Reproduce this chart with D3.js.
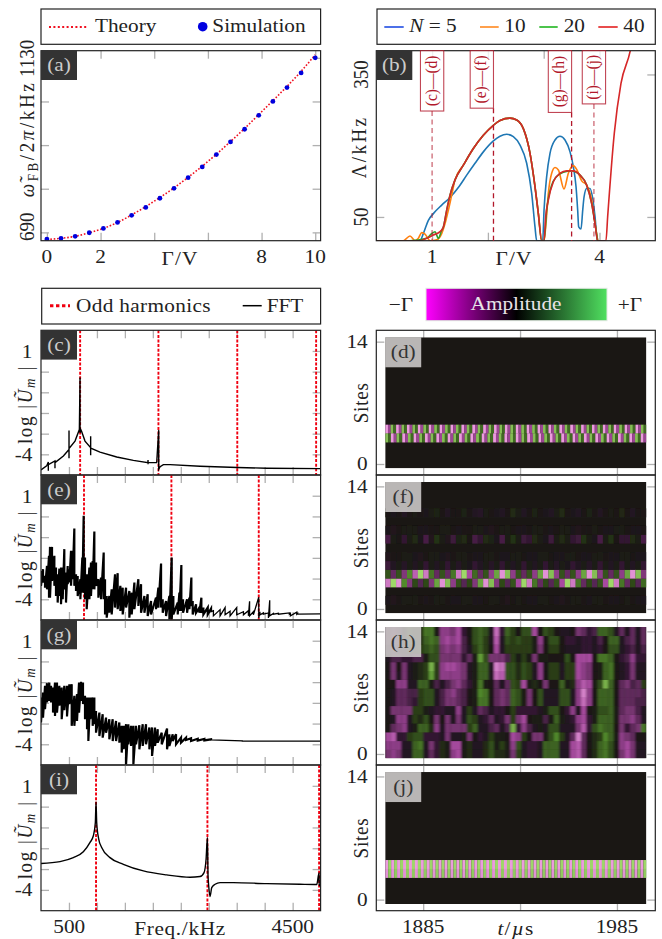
<!DOCTYPE html>
<html>
<head>
<meta charset="utf-8">
<script src="https://cdn.jsdelivr.net/npm/d3@7"></script>
<style>
html, body { margin: 0; padding: 0; background: #fff; }
svg { display: block; }
text { font-family: "Liberation Serif", serif; fill: #222; }
</style>
</head>
<body>
<svg id="chart" width="662" height="939"></svg>
<script>
// panel (a)
var gammaA = [0, 0.526, 1.053, 1.579, 2.105, 2.632, 3.158, 3.684, 4.211, 4.737, 5.263, 5.789, 6.316, 6.842, 7.368, 7.895, 8.421, 8.947, 9.474, 10];
var simA = [673, 675, 680, 689, 700, 715, 733, 753, 776, 801, 828, 855, 886, 918, 950, 985, 1020, 1055, 1092, 1130];
var theoryA = [672, 675, 680, 689, 700, 715, 734, 755, 778, 802, 829, 857, 887, 919, 952, 987, 1022, 1058, 1096, 1138];

// panel (b)
var gamma5 = [0, 0.5, 0.783, 0.843, 0.933, 1.022, 1.172, 1.321, 1.47, 1.62, 1.769, 1.918, 2.098, 2.217, 2.337, 2.456, 2.576, 2.695, 2.785, 2.844, 2.874, 2.982, 3.006, 3.053, 3.113, 3.203, 3.292, 3.382, 3.472, 3.531, 3.579, 3.609, 3.627, 3.669, 3.699, 3.723, 3.77, 3.83, 3.878, 3.92, 3.961, 4.1];
var lambda5 = [0, 0, 0, 15, 43, 57, 75, 91, 112, 138, 163, 187, 210, 220, 224, 219, 201, 163, 99.5, 29, 0, 0, 64, 135, 184, 212, 220, 212, 187, 156, 114, 64, 29, 24.5, 64, 92, 110, 110, 89, 50, 0, 0];
var gamma10 = [0, 0.485, 0.604, 0.694, 0.754, 0.813, 0.873, 0.963, 1.082, 1.172, 1.232, 1.291, 1.351, 1.411, 1.56, 1.739, 1.918, 2.098, 2.217, 2.396, 2.516, 2.635, 2.755, 2.844, 2.904, 2.964, 3.006, 3.041, 3.083, 3.143, 3.203, 3.263, 3.364, 3.442, 3.531, 3.591, 3.681, 3.77, 3.86, 3.92, 3.967];
var lambda10 = [0, 0, 10, 0, 5, 17, 14, 0, 2, 15, 36, 64, 96, 128, 159, 194, 222, 243, 253, 258, 254, 236, 184, 114, 57, 0, 0, 36, 99.5, 142, 154, 149, 109, 142, 158, 150, 126, 117, 85.5, 36, 0];
var gamma20 = [0, 0.6, 0.903, 0.992, 1.052, 1.112, 1.172, 1.202, 1.261, 1.321, 1.411, 1.56, 1.739, 1.918, 2.098, 2.217, 2.396, 2.516, 2.635, 2.755, 2.844, 2.904, 2.964, 3.006, 3.053, 3.143, 3.233, 3.352, 3.5, 3.651, 3.77, 3.86, 3.92, 3.967];
var lambda20 = [0, 0, 5, 15, 19, 5, 22, 29, 64, 96, 128, 159, 194, 222, 243, 253, 258, 254, 236, 184, 114, 57, 0, 0, 64, 117, 135, 144, 147, 138, 117, 78, 36, 0];
var gamma40 = [0, 0.6, 0.783, 0.903, 1.022, 1.142, 1.202, 1.261, 1.321, 1.411, 1.56, 1.739, 1.918, 2.098, 2.217, 2.396, 2.516, 2.635, 2.755, 2.844, 2.904, 2.964, 3.006, 3.035, 3.083, 3.173, 3.292, 3.412, 3.531, 3.651, 3.77, 3.86, 3.92, 3.967, 4.116, 4.146, 4.265, 4.385, 4.552, 4.6];
var lambda40 = [0, 0, 0, 5, 12, 19, 29, 64, 96, 128, 159, 194, 222, 243, 253, 258, 254, 236, 184, 114, 57, 0, 0, 50, 85.5, 124, 142, 147, 147, 138, 117, 78, 36, 0, 0, 50, 226, 331, 400, 430];
var markGamma = [1, 2.1, 3.5, 3.9];
var markLabel = ["(c)—(d)", "(e)—(f)", "(g)—(h)", "(i)—(j)"];
var markBox = [273, 279, 270, 288];
var markSide = [0, -1, -1, 0];
var markOpacity = [0.65, 1, 1, 0.65];

// spectra (c) (e) (g) (i), frequency in kHz, log amplitude
var freqC = [0, 101, 131, 131, 131, 250, 250, 250, 400, 501, 501, 501, 501, 608, 686, 698, 698, 710, 727, 787, 888, 888, 888, 888, 1055, 1354, 1652, 1914, 1914, 1914, 1914, 2069, 2105, 2105, 2130, 2188, 2308, 2844, 3512, 4037, 5000];
var logC = [-4.75, -4.56, -4.37, -4.8, -4.5, -4.32, -4.67, -4.4, -4.08, -3.76, -2.85, -4.19, -3.72, -3.36, -2.8, -0.28, -2.96, -2.8, -2.9, -3.36, -3.68, -3.12, -4.05, -3.7, -3.89, -4.13, -4.29, -4.4, -4.27, -4.48, -4.4, -4.4, -2.83, -4.72, -4.6, -4.5, -4.5, -4.58, -4.64, -4.67, -4.69];
var harmonicsC = [700, 2100, 3510, 4920];

var freqE = [0, 36, 72, 107, 143, 161, 197, 239, 268, 298, 328, 358, 388, 417, 447, 477, 507, 537, 566, 596, 626, 656, 704, 739, 763, 787, 817, 865, 894, 924, 954, 984, 1026, 1073, 1121, 1145, 1175, 1222, 1264, 1324, 1371, 1419, 1461, 1521, 1580, 1622, 1670, 1741, 1789, 1849, 1908, 1968, 2057, 2099, 2147, 2177, 2236, 2296, 2337, 2367, 2445, 2475, 2510, 2540, 2612, 2654, 2689, 2713, 2773, 2832, 2868, 2904, 2982, 3041, 3083, 3202, 3292, 3381, 3500, 3620, 3709, 3730, 3798, 3894, 3915, 3977, 4067, 4090, 4156, 4246, 4442, 4460, 4574, 4590, 5000];
var hiE = [-2.63, -2.55, -2.87, -2.39, -1.9, -1.47, -1.47, -1.9, -2.47, -2.79, -2.52, -2.47, -2.47, -1.58, -2.71, -2.39, -2.55, -1.66, -1.66, -0.58, -2.79, -2.87, -3.03, -1.98, 0.03, -1.98, -2.79, -2.47, -2.23, -2.15, -0.73, -2.23, -3.03, -2.95, -1.74, -3.03, -3.84, -3.84, -3.52, -2.79, -2.74, -3.35, -3.44, -3.44, -3.6, -3.68, -3.19, -3.03, -3.27, -3.84, -3.76, -4.08, -3.92, -3.44, -2.27, -4, -4.08, -3.84, -1.98, -3.84, -4.16, -3.68, -2.35, -4, -4, -3.92, -2.95, -4.08, -4.24, -4.4, -3.92, -4.4, -4.4, -4.45, -4.55, -4.5, -4.4, -4.58, -4.4, -4.6, -4.55, -4.1, -4.6, -3.9, -4.6, -4.66, -4.66, -4.05, -4.68, -4.68, -4.66, -4.68, -4.62, -4.68, -4.7];
var loE = [-3.35, -3.19, -3.44, -3.52, -3.92, -3.92, -3.11, -3.35, -3.84, -4.16, -3.84, -4.24, -4, -3.52, -4.16, -3.27, -3.19, -3.35, -3.03, -3.35, -3.6, -3.84, -4, -3.68, -3.68, -4, -4.48, -4, -3.84, -3.52, -3.52, -3.35, -3.92, -4, -4, -4.73, -4.89, -4.65, -4.73, -4.4, -4.48, -4.56, -4.73, -4.4, -4.89, -4.73, -4.48, -4.32, -4.65, -4.65, -4.81, -4.73, -4.48, -4.4, -4.4, -4.65, -4.81, -4.97, -4.97, -4.73, -4.73, -4.56, -4.56, -4.65, -4.65, -4.48, -4.32, -4.73, -4.65, -4.65, -4.65, -4.73, -4.73, -4.6, -4.8, -4.8, -4.75, -4.8, -4.75, -4.75, -4.8, -4.8, -4.75, -4.9, -4.75, -4.72, -4.9, -4.8, -4.72, -4.72, -4.72, -4.8, -4.72, -4.72, -4.72];
var harmonicsE = [769, 2332, 3894];

var freqG = [0, 36, 72, 107, 149, 179, 215, 250, 286, 328, 370, 417, 465, 507, 549, 596, 644, 680, 716, 751, 787, 823, 847, 882, 924, 954, 984, 1044, 1103, 1163, 1222, 1282, 1342, 1401, 1443, 1479, 1521, 1562, 1610, 1652, 1699, 1759, 1819, 1878, 1938, 1986, 2039, 2087, 2159, 2254, 2296, 2355, 2415, 2504, 2594, 2683, 2803, 2922, 3041, 3600, 5000];
var hiG = [-1.74, -1.5, -1.18, -1.05, -1.02, -1.18, -1.26, -1.02, -1.02, -1.18, -1.26, -1.18, -1.18, -1.1, -1.1, -1.66, -1.58, -1.02, -0.98, -1.02, -1.66, -1.74, -1.74, -1.74, -1.74, -1.74, -2.39, -2.47, -2.55, -2.71, -2.79, -2.79, -2.87, -2.95, -3.11, -3.11, -3.03, -3.03, -3.11, -3.11, -3.11, -3.08, -3.03, -3.03, -3.19, -3.19, -3.19, -3.27, -3.44, -3.24, -3.52, -3.52, -3.52, -3.68, -3.68, -3.71, -3.73, -3.74, -3.76, -3.83, -3.85];
var loG = [-2.95, -2.71, -2.31, -1.98, -1.9, -1.98, -2.47, -2.63, -2.47, -2.13, -2.79, -2.35, -2.66, -2.06, -3.11, -3.11, -2.87, -2.47, -1.9, -2.06, -2.79, -3.27, -3.84, -2.79, -3.11, -3.03, -3.44, -3.6, -3.68, -3.44, -3.76, -3.84, -3.84, -3.92, -4.4, -4.24, -4.97, -4, -4.08, -4.97, -4, -4.24, -4.08, -4, -4.24, -4.56, -4.08, -3.92, -4, -4.24, -4.08, -3.84, -4, -3.92, -3.79, -3.84, -3.82, -3.81, -3.79, -3.85, -3.87];

var freqI = [0, 340, 578, 757, 877, 936, 972, 984, 996, 1032, 1085, 1234, 1473, 1831, 2248, 2665, 2844, 2916, 2952, 2976, 2987, 2999, 3023, 3053, 3113, 3202, 3441, 4037, 4633, 4931, 4973, 4974, 5000];
var logI = [-2.73, -2.64, -2.45, -2.17, -1.72, -1.4, -0.76, 0.23, -0.76, -1.56, -1.96, -2.45, -2.77, -3.09, -3.28, -3.39, -3.36, -3.17, -2.53, -1.48, -3.33, -3.81, -4.32, -3.89, -3.73, -3.65, -3.65, -3.7, -3.73, -3.74, -3.17, -3.8, -3.74];
var harmonicsI = [984, 2976, 4973];

// heat maps, one row per site, columns in time order
var dSite4 = [-0.95, -0.55, 0.8, 0.45, -0.95, -0.55, 0.8, 0.45, -0.95, -0.55, 0.8, 0.45, -0.95, -0.55, 0.8, 0.45, -0.95, -0.55, 0.8, 0.45, -0.95, -0.55, 0.8, 0.45, -0.95, -0.55, 0.8, 0.45, -0.95, -0.55, 0.8, 0.45, -0.95, -0.55, 0.8, 0.45, -0.95, -0.55, 0.8, 0.45, -0.95, -0.55, 0.8, 0.45, -0.95, -0.55, 0.8, 0.45, -0.95, -0.55, 0.8, 0.45, -0.95, -0.55, 0.8, 0.45, -0.95, -0.55, 0.8, 0.45, -0.95, -0.55, 0.8, 0.45, -0.95, -0.55, 0.8, 0.45, -0.95, -0.55, 0.8, 0.45, -0.95, -0.55, 0.8, 0.45, -0.95, -0.55, 0.8, 0.45, -0.95, -0.55, 0.8, 0.45, -0.95, -0.55, 0.8, 0.45, -0.95, -0.55, 0.8, 0.45, -0.95, -0.55, 0.8, 0.45];
var dSite3 = [0.8, 0.45, -0.95, -0.55, 0.8, 0.45, -0.95, -0.55, 0.8, 0.45, -0.95, -0.55, 0.8, 0.45, -0.95, -0.55, 0.8, 0.45, -0.95, -0.55, 0.8, 0.45, -0.95, -0.55, 0.8, 0.45, -0.95, -0.55, 0.8, 0.45, -0.95, -0.55, 0.8, 0.45, -0.95, -0.55, 0.8, 0.45, -0.95, -0.55, 0.8, 0.45, -0.95, -0.55, 0.8, 0.45, -0.95, -0.55, 0.8, 0.45, -0.95, -0.55, 0.8, 0.45, -0.95, -0.55, 0.8, 0.45, -0.95, -0.55, 0.8, 0.45, -0.95, -0.55, 0.8, 0.45, -0.95, -0.55, 0.8, 0.45, -0.95, -0.55, 0.8, 0.45, -0.95, -0.55, 0.8, 0.45, -0.95, -0.55, 0.8, 0.45, -0.95, -0.55, 0.8, 0.45, -0.95, -0.55, 0.8, 0.45, -0.95, -0.55];

var fSite4 = [0.35, -0.35, 0.35, -0.45, 0.6, -0.7, 0.9, -0.8, 0.5, -0.35, 0.35, -0.35, 0.5, -0.8, 0.9, -0.6, 0.45, -0.35, 0.35, -0.5, 0.7, -0.9, 0.8, -0.5, 0.35, -0.35, 0.35, -0.5, 0.7, -0.9, 0.8, -0.5, 0.35, -0.35, 0.35, -0.5, 0.7, -0.9, 0.8, -0.5, 0.35, -0.35, 0.35, -0.5, 0.7, -0.9, 0.8, -0.45];
var fSite3 = [-0.8, 0.9, -0.9, 0.6, -0.45, 0.3, -0.3, 0.3, -0.45, 0.7, -0.9, 0.8, -0.5, 0.35, -0.3, 0.3, -0.45, 0.7, -0.9, 0.8, -0.45, 0.3, -0.3, 0.35, -0.6, 0.9, -0.8, 0.5, -0.35, 0.3, -0.3, 0.35, -0.6, 0.9, -0.8, 0.5, -0.35, 0.3, -0.3, 0.35, -0.6, 0.9, -0.8, 0.5, -0.35, 0.3, -0.3, 0.45];
var fSite5 = [-0.2, -0.1, 0.05, -0.12, 0.08, -0.1, 0.08, -0.16, 0.08, -0.1, 0.05, -0.16, 0.05, -0.12, 0.08, -0.05, -0.16, -0.1, 0.08, -0.12, 0.05, -0.16, 0.08, -0.1, 0.05, -0.16, 0.05, -0.1, 0.08, -0.16, 0.05, -0.12, 0.08, -0.05, -0.16, -0.1, 0.08, -0.12, 0.05, -0.16, 0.08, -0.1, 0.05, -0.16, 0.05, -0.1, 0.08, -0.16];
var fSite8 = [-0.24, 0.04, 0, -0.16, 0.08, 0.16, -0.04, -0.24, -0.08, 0.2, 0.04, -0.08, -0.2, 0.12, 0.16, 0, -0.24, -0.16, 0.16, 0.12, -0.04, -0.24, 0.04, 0.2, 0.08, -0.2, -0.16, 0.16, 0.08, -0.04, -0.2, 0.04, 0.16, 0.08, -0.16, -0.2, 0.2, 0.04, -0.04, -0.24, 0.08, 0.2, 0, -0.16, -0.16, 0.16, 0.04, -0.24];
var fSite11 = [0, -0.05, 0.02, -0.1, 0, 0.03, -0.03, -0.05, 0.05, 0.12, 0, -0.1, 0, 0.02, 0.1, -0.03, -0.1, -0.12, 0.05, 0.02, -0.05, -0.1, 0, 0.15, 0.05, -0.1, -0.03, 0.12, 0, -0.05, -0.1, 0.05, 0.15, 0, -0.05, -0.1, 0, 0.12, 0.02, -0.1, -0.03, 0.05, 0, 0.14, -0.02, -0.1, 0, 0.02];
var fSite9 = [-0.05, -0.08, -0.02, 0.03, 0.06, 0.03, -0.04, -0.06, -0.03, 0.02, 0.05, 0.06, 0.02, -0.04, -0.03, 0.02, 0.05, 0.03, -0.05, -0.07, -0.02, 0.03, 0.06, 0.02, -0.05, -0.06, 0.02, 0.06, 0.04, -0.03, -0.05, 0.02, 0.05, 0.03, -0.04, -0.07, -0.03, 0.02, 0.05, 0.02, -0.05, -0.04, 0.03, 0.06, 0.02, -0.04, -0.05, 0.02];
var fSite6 = [-0.07, -0.03, 0.02, 0.07, 0.03, -0.05, -0.07, 0.02, 0.06, 0.05, -0.04, -0.07, -0.02, 0.05, 0.06, 0, -0.06, -0.05, 0.03, 0.07, 0.02, -0.06, -0.05, 0.03, 0.07, 0.01, -0.06, -0.05, 0.04, 0.06, 0, -0.05, -0.06, 0.03, 0.07, 0.02, -0.06, -0.04, 0.03, 0.06, 0.01, -0.06, -0.04, 0.04, 0.06, 0, -0.05, -0.05];
var fSite1 = [-0.04, -0.08, -0.03, 0.05, 0.03, 0.08, 0.02, -0.05, -0.03, 0.07, 0.04, -0.02, -0.05, -0.04, 0.05, 0.03, -0.06, -0.04, 0.02, 0.06, 0.03, -0.03, -0.07, 0.02, 0.06, 0.02, -0.05, -0.06, 0.03, 0.05, 0.02, -0.04, -0.07, -0.02, 0.05, 0.04, -0.03, -0.06, 0.03, 0.06, 0.01, -0.05, -0.05, 0.02, 0.06, 0.02, -0.04, -0.05];

var hRows = [
  [-5, -6, -5, -1, -1, 5, 5, -1, -4, -2, 2, 1, -6, -7, 1, 2, -1, -1, 2, 4, 2, 2, 1, -5, 3, -1, -2, -2, -1, 5, 5, 5, -1, -1, -7, -8, -4, 0, 2, 5, 6, 4, 0, -5, -7, -5, -1, -1],
  [-6, -6, -6, -1, -1, 5, 6, -1, -5, -2, 2, 1, -7, -7, 1, 2, -1, -1, 2, 4, 1, 3, 1, -6, 4, -1, -2, -2, -1, 5, 5, 5, -1, -1, -7, -8, -4, 0, 2, 5, 6, 4, 0, -6, -7, -5, -1, -1],
  [-7, -8, -2, -2, 3, 4, 4, -2, -2, -2, -1, -5, -1, -1, 1, -5, 0, -2, -1, 3, 1, 1, 0, -7, -6, 3, 0, -5, -5, 1, 4, 7, 3, -1, -4, -10, -4, 0, 2, 3, 7, 5, 1, -6, -5, -4, 0, 0],
  [0, -4, -5, -6, -1, 1, 5, 5, 2, -6, -1, -5, -5, -5, -5, 3, 5, -1, -1, -3, -4, -1, -3, 9, -2, -6, -3, -1, 1, -1, 4, 4, -1, -1, -1, -5, -8, -2, 4, 6, 5, 5, 0, -5, -2, -4, -5, 6],
  [0, -1, -6, -6, -1, 3, 2, 4, 0, -5, 0, -5, -1, -5, -1, 4, 3, -1, -2, -4, -1, -2, -5, 3, -5, -7, 0, 1, 1, -3, 1, 5, 1, -1, -2, -6, -7, -2, 1, 5, 5, 5, 1, -5, -5, -6, -4, -1],
  [0, -5, -5, -5, -5, 3, 3, 1, -1, -2, -2, -1, -1, -6, -1, 3, -1, -4, -3, -1, -2, -2, 0, 3, -2, -2, -2, -2, -1, 1, 4, 4, 0, -2, -6, -1, -7, 0, 1, 4, 4, 5, 1, -4, -5, -5, -3, -1],
  [0, -1, -4, -4, -3, -2, 3, 4, 4, -1, -3, -5, -5, -4, -3, 0, 1, 6, 6, 0, -4, -5, -4, 5, 4, 1, -5, 0, 4, -1, -1, -1, 4, 4, -1, -6, -9, -6, 0, 5, 5, 5, 0, -4, -4, -4, -3, -3],
  [0, -1, -4, -4, -3, -3, 3, 4, 4, -1, -3, -5, -6, -4, -3, 0, 1, 7, 6, 0, -4, -5, -4, 5, 4, 1, -5, 0, 4, -1, -1, -1, 4, 4, -1, -6, -10, -6, 0, 5, 5, 5, 0, -4, -4, -4, -4, -3],
  [0, 0, -6, -6, -1, -1, 5, 5, 1, -3, -1, -3, -5, -6, -4, -2, 1, 6, 1, 0, -4, -1, -4, 4, 3, -7, 1, 2, 0, -5, 0, 0, 5, 1, 2, -6, -8, -7, 1, 4, 9, 5, 0, -4, -5, -3, -4, 3],
  [0, -5, -1, -5, -1, 1, 2, 3, 8, 3, -6, -6, -6, -6, -5, -1, 1, 5, 5, -1, -9, -8, 4, 4, 2, 4, 3, -1, -6, 0, 3, 3, -1, 3, 3, -7, -6, -5, 0, 1, 5, 6, 0, -1, -2, -5, -1, -1],
  [0, -5, 0, -5, -1, 1, 2, 3, 9, 3, -6, -7, -7, -6, -5, -1, 1, 5, 5, -1, -10, -9, 4, 4, 2, 4, 3, -1, -6, 0, 3, 3, -1, 3, 3, -7, -6, -5, 0, 1, 5, 6, 0, -1, -2, -5, -1, -1],
  [-1, -3, -3, -2, -2, -3, -3, 1, 4, 4, -5, -5, -5, -5, -2, -4, 1, 8, 4, -5, -5, -5, -3, 3, 1, 3, 1, -5, 1, 1, 0, 0, 0, 4, 0, -7, -7, -7, 0, 6, 6, 5, 0, -2, -3, -6, -2, -2],
  [-2, -3, -2, -1, 2, 2, 3, 4, 5, 4, -5, -6, -5, -6, -3, -1, 3, 5, 3, 0, -7, -1, 3, 3, 3, 3, 3, 1, -5, 0, 3, 3, 0, -1, -1, -1, -2, -2, -1, -2, 0, 4, 4, -1, -2, -3, -1, -3],
  [-3, -4, -3, 0, 3, 2, 2, 5, 6, 5, -6, -7, -6, -7, -3, 0, 4, 5, 3, -1, -8, -1, 4, 3, 4, 3, 3, 1, -6, 0, 4, 4, 0, -2, -2, -1, -2, -2, -1, -3, 0, 5, 5, -1, -3, -4, -1, -4],
  [-3, -4, -3, 0, 3, 2, 2, 6, 6, 1, -6, -6, -5, -7, -2, 0, 4, 5, 4, -1, -9, -2, 5, 3, 0, 4, 4, -7, 0, 4, 3, 0, -1, -1, 0, -5, -4, -2, -3, 5, 5, 4, -1, -4, -1, -4, -1, -4]
];

var jSite4 = [-0.95, 0.9, -0.95, 0.9, -0.95, 0.9, -0.95, 0.9, -0.95, 0.9, -0.95, 0.9, -0.95, 0.9, -0.95, 0.9, -0.95, 0.9, -0.95, 0.9, -0.95, 0.9, -0.95, 0.9, -0.95, 0.9, -0.95, 0.9, -0.95, 0.9, -0.95, 0.9, -0.95, 0.9, -0.95, 0.9, -0.95, 0.9, -0.95, 0.9, -0.95, 0.9, -0.95, 0.9, -0.95, 0.9, -0.95, 0.9, -0.95, 0.9, -0.95, 0.9, -0.95, 0.9, -0.95, 0.9, -0.95, 0.9, -0.95, 0.9, -0.95, 0.9, -0.95, 0.9, -0.95, 0.9, -0.95, 0.9, -0.95, 0.9, -0.95, 0.9, -0.95, 0.9, -0.95, 0.9, -0.95, 0.9, -0.95, 0.9, -0.95, 0.9, -0.95, 0.9, -0.95, 0.9, -0.95, 0.9];
var jSite3 = [-0.9, 0.85, -0.9, 0.85, -0.9, 0.85, -0.9, 0.85, -0.9, 0.85, -0.9, 0.85, -0.9, 0.85, -0.9, 0.85, -0.9, 0.85, -0.9, 0.85, -0.9, 0.85, -0.9, 0.85, -0.9, 0.85, -0.9, 0.85, -0.9, 0.85, -0.9, 0.85, -0.9, 0.85, -0.9, 0.85, -0.9, 0.85, -0.9, 0.85, -0.9, 0.85, -0.9, 0.85, -0.9, 0.85, -0.9, 0.85, -0.9, 0.85, -0.9, 0.85, -0.9, 0.85, -0.9, 0.85, -0.9, 0.85, -0.9, 0.85, -0.9, 0.85, -0.9, 0.85, -0.9, 0.85, -0.9, 0.85, -0.9, 0.85, -0.9, 0.85, -0.9, 0.85, -0.9, 0.85, -0.9, 0.85, -0.9, 0.85, -0.9, 0.85, -0.9, 0.85, -0.9, 0.85, -0.9, 0.85];

var svg = d3.select("#chart");
var defs = svg.append("defs");
var tickColor = "#b0b0b0";
var frameColor = "#222";
var sx = 1.12;  // the original figure is stretched sideways, text too

var heatColor = d3.scaleLinear()
    .domain([-1, -0.6, -0.2, -0.1, 0, 0.1, 0.2, 0.6, 1])
    .range(["#f4a8e6", "#a84aa0", "#3c1a3a", "#221822", "#1a1714", "#1d2115", "#243212", "#518a2c", "#b8f07c"]);

function label(x, y, html, opts) {
    opts = opts || {};
    var t = "translate(" + x + "," + y + ") scale(" + sx + ",1)";
    if (opts.rotate) {
        t += " rotate(-90)";
    }
    return svg.append("text")
        .attr("transform", t)
        .attr("font-size", opts.size || 19)
        .attr("letter-spacing", opts.spacing || null)
        .attr("text-anchor", opts.anchor || "middle")
        .style("fill", opts.fill || null)
        .html(html);
}

function frame(box) {
    svg.append("rect")
        .attr("x", box.x0).attr("y", box.y0)
        .attr("width", box.x1 - box.x0).attr("height", box.y1 - box.y0)
        .attr("fill", "none")
        .attr("stroke", frameColor)
        .attr("stroke-width", 1.2);
}

function ticks(box, x, y, xTicks, yTicks, len) {
    var sides = [
        [d3.axisBottom(x).tickValues(xTicks), 0, box.y1],
        [d3.axisTop(x).tickValues(xTicks), 0, box.y0],
        [d3.axisLeft(y).tickValues(yTicks), box.x0, 0],
        [d3.axisRight(y).tickValues(yTicks), box.x1, 0]
    ];
    sides.forEach(function(s) {
        var g = svg.append("g")
            .attr("transform", "translate(" + s[1] + "," + s[2] + ")")
            .call(s[0].tickSize(-len).tickFormat(""));
        g.select(".domain").remove();
        g.selectAll("line").attr("stroke", tickColor).attr("stroke-width", 1.3);
    });
}

function tag(x0, y0, w, h, text, dark) {
    svg.append("rect")
        .attr("x", x0).attr("y", y0).attr("width", w).attr("height", h)
        .attr("fill", dark ? "#333" : "#cfcdcc")
        .attr("opacity", dark ? 1 : 0.88);
    label(x0 + w / 2, y0 + h / 2 + 6, text, {fill: dark ? "#ccc" : "#333"});
}

function legendBox(x0, y0, x1, y1) {
    svg.append("rect")
        .attr("x", x0).attr("y", y0)
        .attr("width", x1 - x0).attr("height", y1 - y0)
        .attr("fill", "#fff").attr("stroke", frameColor).attr("stroke-width", 1.2);
}

function legendLine(x0, x1, y, color, width, dash) {
    svg.append("line")
        .attr("x1", x0).attr("x2", x1).attr("y1", y).attr("y2", y)
        .attr("stroke", color)
        .attr("stroke-width", width)
        .attr("stroke-dasharray", dash || null);
}

var clipCount = 0;
function clipTo(box) {
    var id = "clip" + (clipCount++);
    svg.append("clipPath").attr("id", id).append("rect")
        .attr("x", box.x0).attr("y", box.y0)
        .attr("width", box.x1 - box.x0).attr("height", box.y1 - box.y0);
    return svg.append("g").attr("clip-path", "url(#" + id + ")");
}

// ---- panel (a)
var boxA = {x0: 41, x1: 320.6, y0: 50.7, y1: 240.7};
var xA = d3.scaleLinear().domain([-0.22, 10.2]).range([boxA.x0, boxA.x1]);
var yA = d3.scaleLinear().domain([669, 1148]).range([boxA.y1, boxA.y0]);
ticks(boxA, xA, yA, [0, 2, 4, 6, 8, 10], [690, 800, 910, 1020, 1130], 8);
var plotA = clipTo(boxA);
plotA.append("path")
    .datum(d3.zip(gammaA, theoryA))
    .attr("d", d3.line().x(d => xA(d[0])).y(d => yA(d[1])).curve(d3.curveMonotoneX))
    .attr("fill", "none").attr("stroke", "#f01020").attr("stroke-width", 1.6).attr("stroke-dasharray", "1.6,1.8");
plotA.selectAll("circle").data(d3.zip(gammaA, simA)).enter().append("circle")
    .attr("cx", d => xA(d[0])).attr("cy", d => yA(d[1])).attr("r", 2.4)
    .attr("fill", "#0000dd");
frame(boxA);
tag(41, 50.7, 36, 29.3, "(a)", true);

legendBox(41, 9, 320.6, 44.3);
legendLine(49, 88, 27, "#f01020", 2.2, "2,2.4");
label(95, 32, "Theory", {anchor: "start"});
svg.append("circle").attr("cx", 202.7).attr("cy", 26.7).attr("r", 4.8).attr("fill", "#0000e0");
label(212.3, 32, "Simulation", {anchor: "start"});
[0, 2, 8, 10].forEach(function(v) { label(xA(v), 263, v); });
label(180, 265, "Γ/V", {spacing: 1});
label(34.3, 226.7, "690", {rotate: true});
label(34.3, 58.3, "1130", {rotate: true});
label(34.3, 139, '<tspan font-style="italic">ω̃</tspan><tspan dy="3" font-size="13">FB</tspan><tspan dy="-3">/2</tspan><tspan font-style="italic">π</tspan>/kHz', {rotate: true, spacing: 2.6});

// ---- panel (b)
var boxB = {x0: 376.3, x1: 655.3, y0: 50.7, y1: 240.7};
var xB = d3.scaleLinear().domain([0, 5]).range([boxB.x0, boxB.x1]);
var yB = d3.scaleLinear().domain([0, 400]).range([boxB.y1, boxB.y0]);
ticks(boxB, xB, yB, [1, 2, 3, 4], [50, 350], 8);
var plotB = clipTo(boxB);
var curveB = d3.line().x(d => xB(d[0])).y(d => yB(d[1])).curve(d3.curveMonotoneX);
[[gamma5, lambda5, "#1f77b4"], [gamma10, lambda10, "#ff7f0e"], [gamma20, lambda20, "#2ca02c"], [gamma40, lambda40, "#d62728"]].forEach(function(s) {
    plotB.append("path")
        .datum(d3.zip(s[0], s[1]))
        .attr("d", curveB)
        .attr("fill", "none").attr("stroke", s[2]).attr("stroke-width", 1.6);
});
frame(boxB);
markGamma.forEach(function(g, i) {
    var boxW = 23.3;
    var left = markSide[i] === 0 ? xB(g) - boxW / 2 : xB(g) - boxW;
    svg.append("line")
        .attr("x1", xB(g)).attr("x2", xB(g))
        .attr("y1", yB(markBox[i])).attr("y2", boxB.y1)
        .attr("stroke", "#b2182b").attr("stroke-width", 1.3)
        .attr("stroke-dasharray", "5,3.5").attr("opacity", markOpacity[i]);
    svg.append("rect")
        .attr("x", left).attr("y", boxB.y0)
        .attr("width", boxW).attr("height", yB(markBox[i]) - boxB.y0)
        .attr("fill", "#fff").attr("stroke", "#b2182b").attr("stroke-width", 1.1)
        .attr("opacity", 0.8);
    label(left + boxW / 2 + 4.5, (boxB.y0 + yB(markBox[i])) / 2, markLabel[i], {rotate: true, size: 15.5, fill: "#b2182b"});
});
tag(376.3, 50.7, 36, 29.3, "(b)", true);

legendBox(377, 9, 655.3, 44.3);
legendLine(384.3, 403.7, 27, "#1040e0", 1.5);
label(409.3, 32, '<tspan font-style="italic">N</tspan> = 5', {anchor: "start"});
legendLine(480, 498.7, 27, "#ff8010", 1.5);
label(504.3, 32, "10", {anchor: "start"});
legendLine(539.3, 557.7, 27, "#10b010", 1.5);
label(563.7, 32, "20", {anchor: "start"});
legendLine(598.3, 617.7, 27, "#e01010", 1.5);
label(623.3, 32, "40", {anchor: "start"});
label(xB(1), 263, "1");
label(xB(4), 263, "4");
label(514, 265, "Γ/V", {spacing: 1});
label(367.7, yB(350), "350", {rotate: true});
label(367.7, yB(50), "50", {rotate: true});
label(366, 147, "Λ/kHz", {rotate: true, spacing: 2.4});

// ---- spectra, left column
var rowTops = [330.3, 475, 620, 765];
var rowBottoms = [475, 620, 765, 910.7];
var xF = d3.scaleLinear().domain([0, 5000]).range([41, 320.6]);

function spectrum(row, name, harmonics, drawCurve) {
    var box = {x0: 41, x1: 320.6, y0: rowTops[row], y1: rowBottoms[row]};
    var y = d3.scaleLinear().domain([-5, 2]).range([box.y1, box.y0]);
    ticks(box, xF, y, d3.range(500, 5000, 500), [1, 0, -1, -2, -3, -4], 8);
    var plot = clipTo(box);
    plot.selectAll("line.harm").data(harmonics).enter().append("line")
        .attr("class", "harm")
        .attr("x1", d => xF(d)).attr("x2", d => xF(d))
        .attr("y1", box.y0).attr("y2", box.y1)
        .attr("stroke", "#f00010").attr("stroke-width", 1.9).attr("stroke-dasharray", "3,1.6");
    drawCurve(plot, y);
    frame(box);
    tag(41, box.y0, 36, 29.3, name, true);
    label(32.5, y(1) + 7, "1", {anchor: "end"});
    label(32.5, y(-4) + 6.5, "-4", {anchor: "end"});
    label(31.5, y(-1.5) + 2, 'log |<tspan font-style="italic">Ũ</tspan><tspan dy="3" font-size="13" font-style="italic">m</tspan><tspan dy="-3"> |</tspan>', {rotate: true, spacing: 1.6});
}

function lineCurve(freq, logs, curve) {
    return function(plot, y) {
        plot.append("path")
            .datum(d3.zip(freq, logs))
            .attr("d", d3.line().x(d => xF(d[0])).y(d => y(d[1])).curve(curve || d3.curveLinear))
            .attr("fill", "none").attr("stroke", "#000").attr("stroke-width", 1.4);
    };
}

// noisy spectra: walk up and down between the top and bottom read at each frequency,
// heavy where the noise is dense, thin in the quiet tail
function bandCurve(freq, hi, lo) {
    return function(plot, y) {
        var walk = d3.zip(freq, hi, lo).flatMap(d => [[d[0], d[1]], [d[0], d[2]]]);
        var line = d3.line().x(d => xF(d[0])).y(d => y(d[1]));
        plot.append("path")
            .datum(walk.filter(d => d[0] <= 3050))
            .attr("d", line)
            .attr("fill", "none").attr("stroke", "#000").attr("stroke-width", 2.2);
        plot.append("path")
            .datum(walk.filter(d => d[0] >= 3040))
            .attr("d", line)
            .attr("fill", "none").attr("stroke", "#000").attr("stroke-width", 1.3);
    };
}

spectrum(0, "(c)", harmonicsC, lineCurve(freqC, logC));
spectrum(1, "(e)", harmonicsE, bandCurve(freqE, hiE, loE));
spectrum(2, "(g)", [], bandCurve(freqG, hiG, loG));
spectrum(3, "(i)", harmonicsI, lineCurve(freqI, logI, d3.curveMonotoneX));

legendBox(41.7, 288.3, 320.6, 324);
legendLine(50, 70, 305.7, "#f00010", 3, "3.4,2.6");
label(76, 311.7, "Odd harmonics", {anchor: "start", spacing: 0.3});
legendLine(242.7, 261.7, 305.7, "#000", 1.5);
label(266.7, 311.7, "FFT", {anchor: "start"});
label(69.3, 933, "500");
label(292.7, 933, "4500");
label(180, 935, "Freq./kHz", {spacing: 0.6});

// ---- heat maps, right column
var xT = d3.scaleLinear().domain([1860.8, 2004.8]).range([376.3, 655.3]);

function heat(row, name, rows, blur) {
    var box = {x0: 376.3, x1: 655.3, y0: rowTops[row], y1: rowBottoms[row]};
    var y = d3.scaleLinear().domain([-1.26, 15.3]).range([box.y1, box.y0]);
    ticks(box, xT, y, [1885, 1935, 1985], [0, 14], 8);
    var left = xT(1865.4);
    var right = xT(2000.2);
    var rowH = y(0) - y(1);
    var clipped = clipTo({x0: left, x1: right, y0: y(14.5), y1: y(-0.5)});
    clipped.append("rect")
        .attr("x", left).attr("y", y(14.5))
        .attr("width", right - left).attr("height", y(-0.5) - y(14.5))
        .attr("fill", "#1a1714");
    var id = "soft" + row;
    defs.append("filter").attr("id", id)
        .attr("x", "-2%").attr("y", "-2%").attr("width", "104%").attr("height", "104%")
        .append("feGaussianBlur").attr("stdDeviation", blur);
    var strip = clipped.append("g").attr("filter", "url(#" + id + ")");
    rows.forEach(function(r) {
        var cols = d3.scaleBand().domain(d3.range(r.values.length)).range([left, right]);
        strip.selectAll("rect.s" + r.site).data(r.values).enter().append("rect")
            .attr("class", "s" + r.site)
            .attr("x", (d, i) => cols(i))
            .attr("y", y(r.site + 0.5))
            .attr("width", cols.bandwidth() + 0.1)
            .attr("height", rowH + 0.3)
            .attr("fill", d => heatColor(d));
    });
    frame(box);
    tag(left, y(14.5), 36, 30, name, false);
    label(367.7, y(14) + 6.5, "14", {anchor: "end"});
    label(367.7, y(0) + 6.5, "0", {anchor: "end"});
    label(368, y(7), "Sites", {rotate: true, spacing: 0.8});
}

heat(0, "(d)", [{site: 4, values: dSite4}, {site: 3, values: dSite3}], "0.35 0.1");
heat(1, "(f)", [
    {site: 1, values: fSite1}, {site: 3, values: fSite3}, {site: 4, values: fSite4},
    {site: 5, values: fSite5}, {site: 6, values: fSite6}, {site: 8, values: fSite8},
    {site: 9, values: fSite9}, {site: 11, values: fSite11}
], "0.35 0.12");
heat(2, "(h)", hRows.map(function(v, i) { return {site: i, values: v.map(d => d / 12)}; }), "0.9 0.4");
heat(3, "(j)", [{site: 4, values: jSite4}, {site: 3, values: jSite3}], "0.1 0.1");

// colour bar
var grad = defs.append("linearGradient").attr("id", "bar");
[["0%", "#ff00ff"], ["50%", "#000000"], ["100%", "#50e060"]].forEach(function(s) {
    grad.append("stop").attr("offset", s[0]).attr("stop-color", s[1]);
});
svg.append("rect")
    .attr("x", 426).attr("y", 288.3).attr("width", 181).attr("height", 32.4)
    .attr("fill", "url(#bar)")
    .attr("stroke", "#dfe8df").attr("stroke-width", 1);
label(516, 310, "Amplitude", {fill: "#e8e4e8"});
label(401, 311, "−Γ");
label(630, 311, "+Γ");
label(xT(1885), 933, "1885");
label(xT(1985), 933, "1985");
label(516, 935, '<tspan font-style="italic">t</tspan>/<tspan font-style="italic">µ</tspan>s', {spacing: 1});
</script>
</body>
</html>
